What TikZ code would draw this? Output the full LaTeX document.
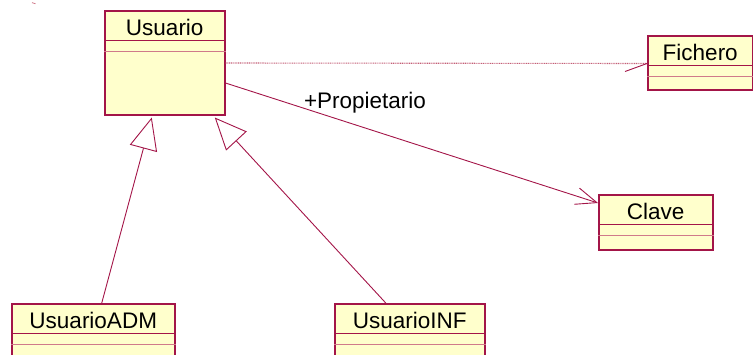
\documentclass[tikz,border=0pt]{standalone}
\usepackage{fontspec}
\setmainfont{Liberation Sans}
\usetikzlibrary{arrows.meta,calc}

\definecolor{umlline}{RGB}{163,21,72}
\definecolor{umlfill}{RGB}{255,255,204}
\definecolor{umldiv}{RGB}{208,122,138}
\definecolor{umldot}{RGB}{196,96,120}

\tikzset{
  classbody/.style={draw=umlline, fill=umlfill, line width=1.5pt, rectangle, inner sep=0pt, anchor=north west},
  classname/.style={font=\fontsize{22.5}{25}\selectfont, inner sep=0pt, anchor=base},
  divider/.style={draw=umlline, line width=0.9pt},
  divider2/.style={draw=umldiv, line width=1.6pt},
  assoc/.style={draw=umlline, line width=0.9pt},
  depline/.style={draw=umldot, line width=1.1pt, dash pattern=on 1pt off 0.8pt},
  genline/.style={draw=umlline, line width=0.9pt,
    -{Triangle[open, length=32pt, width=28pt, fill=white, line width=0.9pt]}},
  navline/.style={assoc, -{Straight Barb[length=21pt, width=17pt, line width=0.9pt]}},
  rolelabel/.style={font=\fontsize{22.5}{25}\selectfont, inner sep=0pt}
}

% #1 name, #2 left, #3 top, #4 width, #5 height, #6 title text
\newcommand\umlclass[6]{%
  \node[classbody, minimum width=#4pt, minimum height=#5pt] (#1) at (#2,#3) {};
  \node[classname] (#1-title) at ($(#1.north)+(0,25)$) {#6};
  \coordinate (#1-dl) at ($(#1.north west)+(0,30.5)$);
  \coordinate (#1-dr) at ($(#1.north east)+(0,30.5)$);
  \draw[divider] (#1-dl) -- (#1-dr);
  \draw[divider2] ($(#1-dl)+(0,11)$) -- ($(#1-dr)+(0,11)$);
}

\begin{document}
\begin{tikzpicture}[x=1pt,y=-1pt]
\useasboundingbox (0,0) rectangle (753,354);
\clip (0,0) rectangle (753,354);

% classes
\umlclass{usuario}{104}{10}{120}{104}{Usuario}
\umlclass{fichero}{647}{35}{105}{54}{Fichero}
\umlclass{clave}{598}{194}{114}{55}{Clave}
\umlclass{adm}{11}{303}{163}{60}{UsuarioADM}
\umlclass{inf}{334}{303}{150}{60}{UsuarioINF}

% dependency Usuario -> Fichero
\coordinate (depstart) at ($(usuario.north east)+(0,53)$);
\coordinate (deptip) at ($(fichero.north west)+(0,28.5)$);
\coordinate (depbarb) at ($(deptip)+(-22,8)$);
\draw[depline] (depstart) -- (deptip);
\draw[assoc] (depbarb) -- (deptip);

% navigable association Usuario -> Clave
\coordinate (assocstart) at ($(usuario.north east)+(0,73)$);
\coordinate (assoctip) at ($(clave.north west)+(0,9)$);
\draw[navline] (assocstart) -- (assoctip);
\node[rolelabel] (role) at (365,103) {+Propietario};

% generalizations
\draw[genline] ($(adm.north)+(8.5,0)$) -- ($(usuario.south)+(-13,2)$);
\draw[genline] ($(inf.north)+(-24,0)$) -- ($(usuario.south)+(50,2)$);

% small stray stroke near the top left corner
\draw[umldiv, line width=0.8pt] (32,2.6) -- (35.5,3.8);
\end{tikzpicture}
\end{document}
